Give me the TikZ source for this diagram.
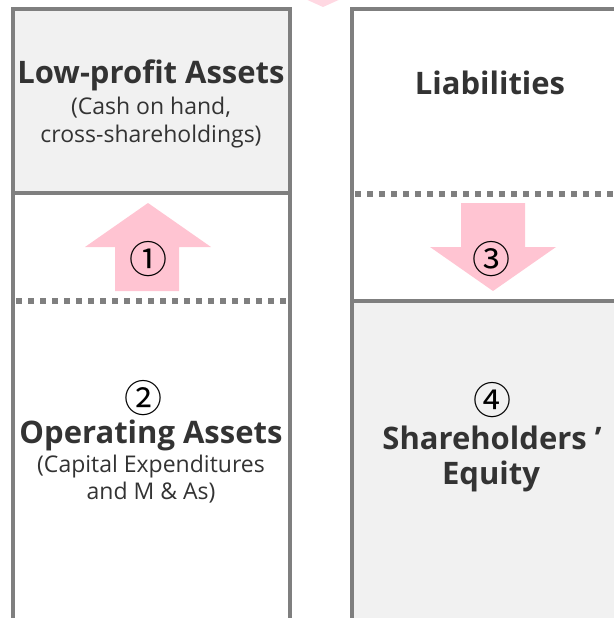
\documentclass[tikz,border=0pt]{standalone}
\usepackage{fontspec}
\setmainfont{Open Sans}
\newfontfamily\circfont{Noto Sans CJK KR}
\usetikzlibrary{positioning}

\definecolor{framegray}{HTML}{7F7F7F}
\definecolor{panelgray}{HTML}{F1F1F1}
\definecolor{flowpink}{HTML}{FFC4D2}
\definecolor{fadedpink}{HTML}{FFD8E2}
\definecolor{inkgray}{HTML}{333333}

\tikzset{
  framelines/.style={draw=framegray, line width=3.5pt, line join=miter},
  dotlines/.style={draw=framegray, line width=6pt, dash pattern=on 6pt off 6pt},
  flowarrow/.style={fill=flowpink},
  heading/.style={font=\bfseries\fontsize{31}{34}\selectfont, text=inkgray, inner sep=0pt, anchor=base},
  subnote/.style={font=\fontsize{23}{28}\selectfont, text=inkgray, inner sep=0pt, anchor=base},
  circnum/.style={font=\circfont\fontsize{38}{38}\selectfont, text=black, inner sep=0pt},
}

\begin{document}
\begin{tikzpicture}[x=1pt, y=-1pt]
    \useasboundingbox (0,0) rectangle (613,618);

    % Shaded panels
    \fill[panelgray] (13,9) rectangle (290,193);
    \fill[panelgray] (352,301) rectangle (625,630);

    % Flow arrows
    \fill[fadedpink] (303,-2) -- (343,-2) -- (323,7) -- cycle;
    \fill[flowarrow] (115,291) -- (115,247) -- (85,247) -- (148,203) -- (211,247) -- (179,247) -- (179,291) -- cycle;
    \fill[flowarrow] (461,203) -- (461,247) -- (430,247) -- (493,291) -- (556,247) -- (525,247) -- (525,203) -- cycle;

    % Assets column
    \draw[framelines] (13,630) -- (13,9) -- (290,9) -- (290,630);
    \draw[framelines] (13,193) -- (290,193);
    \draw[dotlines] (16,301) -- (290,301);

    % Liabilities and equity column
    \draw[framelines] (352,630) -- (352,9) -- (625,9);
    \draw[dotlines] (355,194) -- (625,194);
    \draw[framelines] (352,301) -- (625,301);

    % Labels
    \node[heading] (lowtitle) at (151,84) {Low-profit Assets};
    \node[subnote] (lownote1) at (151,114) {(Cash on hand,};
    \node[subnote] (lownote2) at (151,142) {cross-shareholdings)};

    \node[heading] (liabtitle) at (490,94) {Liabilities};

    \node[circnum] (numone) at (148,259) {①};
    \node[circnum] (numthree) at (491,259) {③};

    \node[circnum] (numtwo) at (143,398) {②};
    \node[heading] (optitle) at (151,443) {Operating Assets};
    \node[subnote] (opnote1) at (151,472) {(Capital Expenditures};
    \node[subnote] (opnote2) at (151,499) {and M \& As)};

    \node[circnum] (numfour) at (492,400) {④};
    \node[heading] (eqtitle1) at (492,449) {Shareholders ’};
    \node[heading] (eqtitle2) at (491,484) {Equity};
\end{tikzpicture}
\end{document}
